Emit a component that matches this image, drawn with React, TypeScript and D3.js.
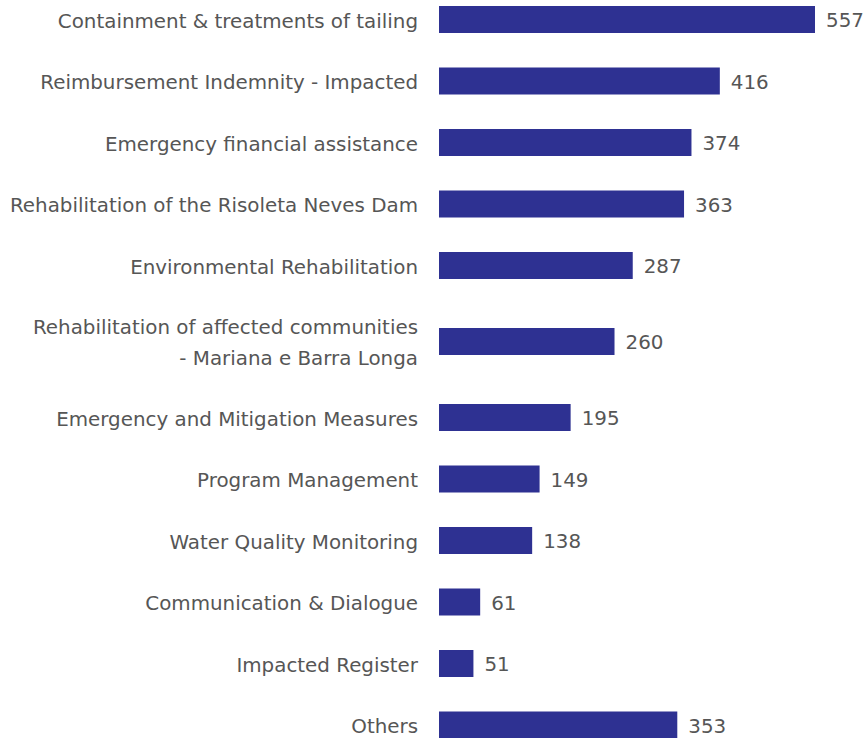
import React from "react";
import * as d3 from "d3";

const categories: string[] = [
  "Containment & treatments of tailing",
  "Reimbursement Indemnity - Impacted",
  "Emergency financial assistance",
  "Rehabilitation of the Risoleta Neves Dam",
  "Environmental Rehabilitation",
  "Rehabilitation of affected communities\n- Mariana e Barra Longa",
  "Emergency and Mitigation Measures",
  "Program Management",
  "Water Quality Monitoring",
  "Communication & Dialogue",
  "Impacted Register",
  "Others",
];
const values: number[] = [557, 416, 374, 363, 287, 260, 195, 149, 138, 61, 51, 353];

const W = 865;
const H = 738;
const ROW = 61.5;
const LINE = 31;
const BAR_H = 27;
const FONT = "'DejaVu Sans', Verdana, sans-serif";
const TEXT = "#565656";
const BAR = "#2e3192";
const FS = 19.87;

export default function App() {
  const rows = categories.map((c, i) => ({ lines: c.split("\n"), value: values[i] }));
  const weights = rows.map((r) => 1 + ((r.lines.length - 1) * 29) / ROW);
  const cum: number[] = [];
  let acc = 0;
  weights.forEach((w) => {
    cum.push(acc + w / 2);
    acc += w;
  });
  const y0 = -11.25;
  const y = d3.scaleLinear().domain([0, acc]).range([y0, y0 + acc * ROW]);
  const x = d3.scaleLinear().domain([0, 557]).range([439, 815]);

  return (
    <svg
      width={W}
      height={H}
      style={{ position: "absolute", left: 0, top: 0, background: "#fff" }}
      fontFamily={FONT}
    >
      {rows.map((r, i) => {
        const cy = y(cum[i]);
        const n = r.lines.length;
        return (
          <g key={i}>
            <rect x={x(0)} y={cy - BAR_H / 2} width={x(r.value) - x(0)} height={BAR_H} fill={BAR} />
            {r.lines.map((ln, j) => (
              <text
                key={j}
                x={418}
                y={cy + 8 + (j - (n - 1) / 2) * LINE}
                textAnchor="end"
                fontSize={FS}
                fill={TEXT}
              >
                {ln}
              </text>
            ))}
            <text x={x(r.value) + 11} y={cy + 7.5} fontSize={FS} fill={TEXT}>
              {r.value}
            </text>
          </g>
        );
      })}
    </svg>
  );
}
